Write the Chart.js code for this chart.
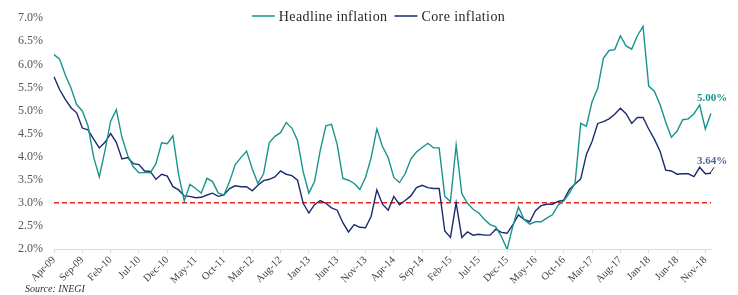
<!DOCTYPE html>
<html>
<head>
<meta charset="utf-8">
<script src="https://cdn.jsdelivr.net/npm/chart.js@4/dist/chart.umd.min.js"></script>
<style>
    html, body { margin: 0; padding: 0; background: #fff; }
    #wrap { width: 738px; height: 295px; }
</style>
</head>
<body>
<div id="wrap"><canvas id="inflationChart" width="738" height="295"></canvas></div>
<script>
"use strict";

// Monthly series, Apr-09 .. Dec-18 (annual % change)
var headline = [
    6.21, 6.11, 5.77, 5.49, 5.13, 4.99, 4.67, 3.99, 3.56, 4.13,
    4.77, 5.02, 4.42, 4.03, 3.78, 3.65, 3.66, 3.65, 3.85, 4.30,
    4.28, 4.45, 3.61, 3.04, 3.40, 3.31, 3.21, 3.53, 3.46, 3.21,
    3.17, 3.46, 3.83, 3.98, 4.12, 3.74, 3.42, 3.63, 4.30, 4.44,
    4.52, 4.74, 4.62, 4.35, 3.67, 3.21, 3.46, 4.13, 4.67, 4.70,
    4.26, 3.53, 3.49, 3.42, 3.29, 3.55, 3.98, 4.60, 4.22, 3.98,
    3.55, 3.44, 3.63, 3.95, 4.10, 4.20, 4.29, 4.19, 4.19, 3.14,
    3.03, 4.25, 3.20, 2.99, 2.86, 2.78, 2.64, 2.53, 2.48, 2.27,
    1.99, 2.49, 2.91, 2.64, 2.54, 2.59, 2.59, 2.67, 2.74, 2.95,
    3.04, 3.21, 3.43, 4.72, 4.66, 5.19, 5.48, 6.13, 6.30, 6.32,
    6.62, 6.40, 6.33, 6.62, 6.82, 5.53, 5.42, 5.13, 4.75, 4.42,
    4.55, 4.80, 4.82, 4.93, 5.12, 4.60, 4.94
];

var core = [
    5.73, 5.45, 5.24, 5.06, 4.95, 4.62, 4.58, 4.38, 4.19, 4.31,
    4.50, 4.31, 3.95, 3.98, 3.85, 3.83, 3.69, 3.68, 3.51, 3.62,
    3.58, 3.35, 3.28, 3.15, 3.14, 3.11, 3.12, 3.17, 3.21, 3.14,
    3.17, 3.31, 3.37, 3.35, 3.35, 3.26, 3.38, 3.48, 3.51, 3.56,
    3.69, 3.62, 3.59, 3.49, 2.99, 2.78, 2.96, 3.05, 2.99, 2.89,
    2.84, 2.57, 2.37, 2.53, 2.47, 2.46, 2.71, 3.28, 2.97, 2.84,
    3.14, 2.96, 3.05, 3.15, 3.33, 3.38, 3.33, 3.31, 3.31, 2.39,
    2.25, 3.00, 2.25, 2.37, 2.30, 2.32, 2.30, 2.30, 2.43, 2.36,
    2.34, 2.52, 2.74, 2.64, 2.59, 2.83, 2.94, 2.97, 2.97, 3.03,
    3.06, 3.29, 3.41, 3.52, 4.05, 4.33, 4.72, 4.76, 4.82, 4.92,
    5.05, 4.93, 4.72, 4.85, 4.85, 4.60, 4.38, 4.12, 3.71, 3.69,
    3.62, 3.63, 3.63, 3.57, 3.77, 3.63, 3.64
];

var monthNames = ["Jan", "Feb", "Mar", "Apr", "May", "Jun", "Jul", "Aug", "Sep", "Oct", "Nov", "Dec"];
var startYear = 2009;
var startMonth = 3;     // Apr
var labelEvery = 5;     // a tick label every 5 months

var targetRate = 3.0;
var endLabels = ["5.00%", "3.64%"];

var headlineColor = "#17958d";
var coreColor = "#1b2b6c";
var fontFamily = "'Liberation Serif', 'Times New Roman', serif";

// Month labels
var labels = [];
for (let i = 0; i < headline.length; i++) {
    var m = startMonth + i;
    var yy = (startYear + Math.floor(m / 12)) % 100;
    labels.push(monthNames[m % 12] + "-" + (yy < 10 ? "0" : "") + yy);
}

// Draws target line, legend, end labels and source note
var overlayPlugin = {
    id: "overlay",
    beforeDatasetsDraw: function(chart) {
        var ctx = chart.ctx;
        var area = chart.chartArea;
        var y = chart.scales.y.getPixelForValue(targetRate);

        ctx.save();
        ctx.strokeStyle = "#e3211c";
        ctx.lineWidth = 1.5;
        ctx.setLineDash([5, 3]);
        ctx.beginPath();
        ctx.moveTo(area.left, y);
        ctx.lineTo(area.right, y);
        ctx.stroke();
        ctx.restore();
    },
    afterDraw: function(chart) {
        var ctx = chart.ctx;
        var area = chart.chartArea;
        ctx.save();

        // Legend
        ctx.font = "14px " + fontFamily;
        ctx.letterSpacing = "0.4px";
        ctx.textBaseline = "middle";
        var items = chart.data.datasets;
        var lineLen = 23, gap = 4, between = 7;
        var total = 0;
        for (let i = 0; i < items.length; i++) {
            total += lineLen + gap + ctx.measureText(items[i].label).width + (i ? between : 0);
        }
        var x = (area.left + area.right) / 2 - total / 2 - 4;
        var ly = 16;
        for (let i = 0; i < items.length; i++) {
            if (i) x += between;
            ctx.strokeStyle = items[i].borderColor;
            ctx.lineWidth = 1.5;
            ctx.beginPath();
            ctx.moveTo(x, ly);
            ctx.lineTo(x + lineLen, ly);
            ctx.stroke();
            x += lineLen + gap;
            ctx.fillStyle = "#262626";
            ctx.fillText(items[i].label, x, ly + 1);
            x += ctx.measureText(items[i].label).width;
        }
        ctx.letterSpacing = "0px";

        // End-of-series labels
        ctx.font = "bold 11px " + fontFamily;
        var hMeta = chart.getDatasetMeta(0).data;
        var cMeta = chart.getDatasetMeta(1).data;
        var hp = hMeta[hMeta.length - 1];
        var cp = cMeta[cMeta.length - 1];

        ctx.fillStyle = headlineColor;
        ctx.fillText(endLabels[0], hp.x - 14, hp.y - 15);

        ctx.strokeStyle = "#222";
        ctx.lineWidth = 1;
        ctx.beginPath();
        ctx.moveTo(cp.x - 1, cp.y);
        ctx.lineTo(cp.x + 3, cp.y - 6);
        ctx.stroke();
        ctx.fillStyle = "#4a6496";
        ctx.fillText(endLabels[1], cp.x - 14, cp.y - 12);

        // Source
        ctx.font = "italic 10px " + fontFamily;
        ctx.fillStyle = "#333";
        ctx.fillText("Source: INEGI", 25, 289);

        ctx.restore();
    }
};

var config = {
    type: "line",
    data: {
        labels: labels,
        datasets: [
            {
                label: "Headline inflation",
                data: headline,
                borderColor: headlineColor,
                borderWidth: 1.4,
                pointRadius: 0,
                tension: 0,
                fill: false
            },
            {
                label: "Core inflation",
                data: core,
                borderColor: coreColor,
                borderWidth: 1.4,
                pointRadius: 0,
                tension: 0,
                fill: false
            }
        ]
    },
    options: {
        responsive: false,
        animation: false,
        events: [],
        layout: {
            padding: { top: 15, right: 27, bottom: 0, left: 0 }
        },
        plugins: {
            legend: { display: false },
            tooltip: { enabled: false }
        },
        scales: {
            x: {
                offset: false,
                afterFit: function(scale) { scale.height = 46; },
                border: { display: true, color: "#d9d9d9", width: 1 },
                grid: {
                    drawOnChartArea: false,
                    tickLength: 4,
                    color: function(c) { return c.index % labelEvery === 0 ? "#d9d9d9" : "rgba(0,0,0,0)"; }
                },
                ticks: {
                    autoSkip: false,
                    minRotation: 45,
                    maxRotation: 45,
                    padding: 1,
                    color: "#404040",
                    font: { family: fontFamily, size: 10.5 },
                    callback: function(value, index) {
                        return index % labelEvery === 0 ? labels[index] : "";
                    }
                }
            },
            y: {
                min: 2,
                max: 7,
                afterFit: function(scale) { scale.width = 54; },
                border: { display: false },
                grid: { display: false, drawTicks: false },
                ticks: {
                    stepSize: 0.5,
                    padding: 11,
                    color: "#555",
                    font: { family: fontFamily, size: 12 },
                    callback: function(v) { return v.toFixed(1) + "%"; }
                }
            }
        }
    },
    plugins: [overlayPlugin]
};

window.onload = function() {
    var ctx = document.getElementById("inflationChart").getContext("2d");
    new Chart(ctx, config);
};
</script>
</body>
</html>
